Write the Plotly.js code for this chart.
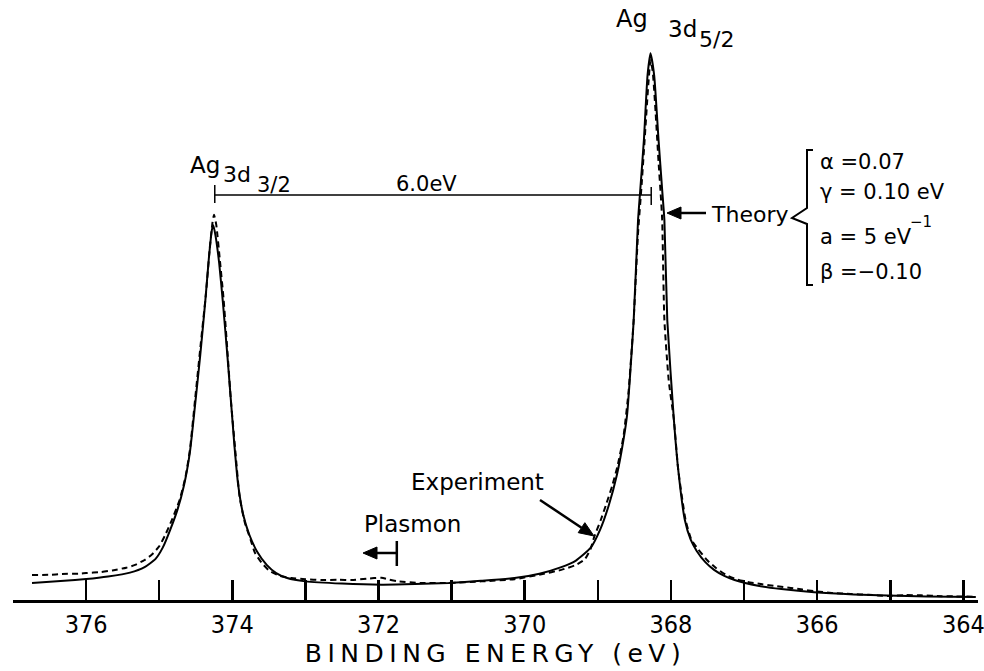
<!DOCTYPE html>
<html>
<head>
<meta charset="utf-8">
<script src="https://cdn.plot.ly/plotly-3.0.1.min.js"></script>
<style>
  html, body { margin: 0; padding: 0; background: #fff; }
  #chart { width: 984px; height: 671px; }
  .xtitle { letter-spacing: 5.5px; }
</style>
</head>
<body>
<div id="chart"></div>
<script>
// ---- Data (binding energy in eV, intensity in arbitrary units, 3d5/2 peak = 100) ----
const theoryE = [376.74, 376.30, 376.00, 375.70, 375.40, 375.20, 375.05, 374.95, 374.85, 374.75,
  374.66, 374.58, 374.51, 374.44, 374.37, 374.32, 374.28, 374.26, 374.23, 374.18, 374.13,
  374.07, 374.02, 373.97, 373.92, 373.85, 373.77, 373.66, 373.53, 373.40, 373.25, 373.00,
  372.50, 371.96, 371.50, 371.04, 370.60, 370.14, 369.80, 369.50, 369.30, 369.10, 368.97,
  368.85, 368.74, 368.65, 368.60, 368.51, 368.45, 368.42, 368.37, 368.32, 368.28, 368.23,
  368.17, 368.12, 368.09, 368.05, 367.96, 367.90, 367.81, 367.73, 367.65, 367.53, 367.41,
  367.27, 367.13, 366.81, 366.49, 366.04, 365.50, 365.04, 364.50, 363.83];
const theoryI = [3.10, 3.50, 3.83, 4.30, 5.00, 6.00, 7.50, 9.60, 12.8, 16.5,
  21.0, 27.0, 35.5, 44.5, 54.5, 62.5, 67.5, 68.4, 66.5, 61.5, 54.5,
  45.0, 36.5, 28.0, 21.0, 15.5, 12.0, 8.80, 6.40, 4.90, 4.00, 3.40,
  3.00, 2.80, 2.90, 3.10, 3.50, 4.00, 4.80, 6.00, 7.20, 9.50, 12.8,
  17.3, 22.8, 29.2, 33.8, 51.0, 69.4, 74.8, 84.0, 95.8, 99.8, 95.8,
  84.0, 74.8, 69.4, 51.0, 32.9, 23.7, 14.6, 11.0, 9.00, 6.90, 5.50,
  4.40, 3.65, 2.60, 2.00, 1.40, 1.00, 0.80, 0.65, 0.55];

const exptE = [376.74, 376.50, 376.33, 376.10, 376.00, 375.80, 375.64, 375.45, 375.33, 375.20,
  375.10, 375.00, 374.92, 374.83, 374.72, 374.64, 374.58, 374.51, 374.43, 374.36, 374.31,
  374.27, 374.25, 374.22, 374.17, 374.12, 374.07, 374.02, 373.96, 373.90, 373.83, 373.75,
  373.69, 373.60, 373.49, 373.35, 373.19, 373.00, 372.78, 372.55, 372.37, 372.16, 371.96,
  371.85, 371.75, 371.41, 371.04, 370.59, 370.14, 369.77, 369.50, 369.30, 369.18, 369.10,
  369.05, 368.96, 368.88, 368.80, 368.73, 368.65, 368.58, 368.51, 368.45, 368.40, 368.35,
  368.31, 368.28, 368.25, 368.21, 368.17, 368.14, 368.12, 368.09, 368.03, 367.96, 367.90,
  367.80, 367.72, 367.63, 367.50, 367.38, 367.25, 367.11, 366.95, 366.77, 366.55, 366.36,
  366.20, 366.04, 365.80, 365.54, 365.30, 365.04, 364.80, 364.58, 364.30, 363.83];
const exptI = [4.56, 4.60, 4.75, 4.80, 4.93, 5.10, 5.40, 5.90, 6.40, 7.30,
  8.30, 9.80, 11.8, 14.5, 18.3, 22.5, 27.4, 36.5, 47.0, 56.0, 64.0,
  69.0, 70.3, 68.5, 62.0, 55.0, 46.0, 36.5, 27.4, 18.8, 14.2, 11.0,
  8.60, 6.80, 5.30, 4.40, 4.00, 3.80, 3.65, 3.70, 3.65, 3.90, 4.05,
  3.70, 3.45, 3.10, 3.10, 3.40, 3.80, 4.70, 5.50, 6.40, 7.40, 9.30,
  11.5, 14.6, 17.7, 21.0, 24.5, 29.8, 38.0, 51.1, 67.0, 76.0, 86.0,
  94.0, 98.5, 96.5, 89.0, 80.0, 74.0, 69.4, 51.1, 40.0, 32.9, 23.7,
  14.6, 11.0, 9.30, 7.20, 5.80, 4.60, 3.80, 3.30, 2.90, 2.50, 2.20,
  1.90, 1.60, 1.30, 1.10, 0.95, 0.75, 0.90, 0.85, 0.70, 0.60];

const peakE = [374.24, 368.27];          // Ag 3d3/2 and Ag 3d5/2 positions (6.0 eV apart)
const plasmonE = 371.75;
const tickVals = [376, 374, 372, 370, 368, 366, 364];
const tickText = ['376', '374', '372', '370', '368', '366', '364'];
const params = ['α =0.07', 'γ = 0.10 eV', 'a = 5 eV', 'β =−0.10'];

// ---- Layout helpers (pixel -> paper) ----
const M = {l: 13, r: 6, t: 0, b: 71};
const PW = 984 - M.l - M.r, PH = 671 - M.t - M.b;
const px = v => (v - M.l) / PW;
const py = v => (PH + M.t - v) / PH;

const FONT = 'DejaVu Sans, Verdana, sans-serif';
const txt = (text, x, y, size, anchor) => ({
  text: text, xref: 'paper', yref: 'paper', x: px(x), y: py(y),
  xanchor: anchor || 'center', yanchor: 'middle', showarrow: false,
  font: {family: FONT, size: size || 22, color: '#000'}
});
const pathOf = pts => pts.map((p, i) => (i ? 'L ' : 'M ') + px(p[0]) + ',' + py(p[1])).join(' ');
// arrow drawn as a shaft line plus a filled triangular head
function arrowShapes(tail, tip, headLen, headHalf, width) {
  const dx = tip[0] - tail[0], dy = tip[1] - tail[1];
  const L = Math.hypot(dx, dy), ux = dx / L, uy = dy / L;
  const bx = tip[0] - ux * headLen, by = tip[1] - uy * headLen;
  const nx = -uy * headHalf, ny = ux * headHalf;
  return [
    {type: 'path', xref: 'paper', yref: 'paper', path: pathOf([tail, [bx, by]]), line: {color: '#000', width: width}},
    {type: 'path', xref: 'paper', yref: 'paper',
     path: pathOf([tip, [bx + nx, by + ny], [bx - nx, by - ny]]) + ' Z',
     fillcolor: '#000', line: {color: '#000', width: 1}}
  ];
}

const traces = [
  {x: theoryE, y: theoryI, type: 'scatter', mode: 'lines', name: 'Theory',
   line: {color: '#000', width: 2, shape: 'spline', smoothing: 0.5}},
  {x: exptE, y: exptI, type: 'scatter', mode: 'lines', name: 'Experiment',
   line: {color: '#000', width: 2, dash: '6px,4px', shape: 'spline', smoothing: 0.5}}
];

const annotations = [
  txt('Ag', 205, 165, 23), txt('3d', 237, 175, 22), txt('3/2', 274, 185, 21),
  txt('Ag', 632, 19, 24), txt('3d', 682, 29, 23), txt('5/2', 716, 40, 22),
  txt('6.0eV', 426, 184, 21),
  txt('Theory', 749, 215, 22),
  txt('Experiment', 477, 482, 23),
  txt('Plasmon', 412, 524, 23),
  txt('−1', 921, 222, 15)
];
const pY = [162, 192, 237, 272];
params.forEach((p, i) => annotations.push(txt(p, 818, pY[i], 21, 'left')));

const lineStyle = {color: '#000', width: 1.5};
const shapes = [
  // 6.0 eV separation bar
  {type: 'line', xref: 'x', yref: 'paper', x0: peakE[0], x1: peakE[1], y0: py(195), y1: py(195), line: lineStyle},
  {type: 'line', xref: 'x', yref: 'paper', x0: peakE[0], x1: peakE[0], y0: py(185), y1: py(203), line: lineStyle},
  {type: 'line', xref: 'x', yref: 'paper', x0: peakE[1], x1: peakE[1], y0: py(187), y1: py(205), line: lineStyle},
  // plasmon marker
  {type: 'line', xref: 'x', yref: 'paper', x0: plasmonE, x1: plasmonE, y0: py(541), y1: py(566), line: {color: '#000', width: 2.5}},
  // brace for theory parameters
  {type: 'path', xref: 'paper', yref: 'paper',
   path: pathOf([[813, 150], [807, 150], [807, 208], [792, 218], [807, 224], [807, 285], [813, 285]]),
   line: {color: '#000', width: 2}}
].concat(
  arrowShapes([706, 213], [667, 213], 14, 6, 2.5),
  arrowShapes([540, 500], [594, 536], 15, 6, 2.5),
  arrowShapes([397, 553], [363, 553], 14, 6, 2.5)
);

const layout = {
  width: 984, height: 671, margin: M,
  paper_bgcolor: '#fff', plot_bgcolor: '#fff', showlegend: false,
  xaxis: {
    range: [377, 363.8], tickmode: 'array', tickvals: tickVals, ticktext: tickText,
    ticks: 'inside', ticklen: 20, tickwidth: 2.5, tickcolor: '#000',
    minor: {tickmode: 'linear', tick0: 377, dtick: 1, ticks: 'inside', ticklen: 20, tickwidth: 2.5, tickcolor: '#000', showgrid: false},
    showline: true, linewidth: 2.5, linecolor: '#000', mirror: false,
    showgrid: false, zeroline: false, fixedrange: true, ticklabeloverflow: 'allow',
    tickfont: {family: 'Liberation Sans Narrow, DejaVu Sans Condensed, sans-serif', size: 25, color: '#000'},
    title: {text: 'BINDING ENERGY (eV)', standoff: 4, font: {family: FONT, size: 25, color: '#000'}}
  },
  yaxis: {range: [0, 109.5], visible: false, fixedrange: true},
  annotations: annotations, shapes: shapes
};

Plotly.newPlot('chart', traces, layout, {displayModeBar: false, staticPlot: true});
</script>
</body>
</html>
